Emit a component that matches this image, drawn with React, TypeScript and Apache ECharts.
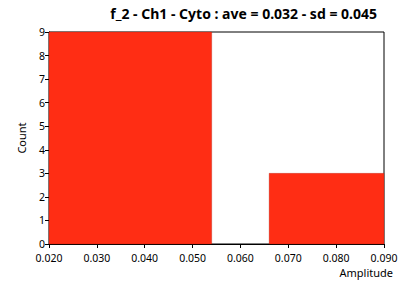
import React, { useEffect, useRef } from "react";
import * as echarts from "echarts";

const binStarts = [0.02, 0.066];
const binEnds = [0.054, 0.09];
const counts = [9, 3];
const titleText = "f_2 - Ch1 - Cyto : ave = 0.032 - sd = 0.045";
const xName = "Amplitude";
const yName = "Count";

const FONT = "Noto Sans";

export default function App() {
  const ref = useRef<HTMLDivElement>(null);
  useEffect(() => {
    const chart = echarts.init(ref.current!, undefined, { renderer: "svg" });
    const data = counts.map((c, i) => [binStarts[i], binEnds[i], c]);
    chart.setOption({
      animation: false,
      title: {
        text: titleText,
        right: 26,
        top: 1,
        textStyle: { fontFamily: FONT, fontSize: 14, fontWeight: "bold", color: "#000" },
      },
      grid: { left: 49, right: 24, top: 32, bottom: 43, show: true, borderColor: "#000", borderWidth: 1, backgroundColor: "#fff" },
      xAxis: {
        type: "value",
        min: 0.02,
        max: 0.09,
        interval: 0.01,
        axisLine: { show: true, lineStyle: { color: "#000" } },
        axisTick: { show: true, length: 4, lineStyle: { color: "#000" } },
        splitLine: { show: false },
        axisLabel: {
          fontFamily: FONT,
          fontSize: 10.5,
          color: "#000",
          margin: 8,
          formatter: (v: number) => v.toFixed(3),
        },
      },
      yAxis: {
        type: "value",
        min: 0,
        max: 9,
        interval: 1,
        name: yName,
        nameLocation: "middle",
        nameGap: 22,
        nameTextStyle: { fontFamily: FONT, fontSize: 11, color: "#000" },
        axisLine: { show: true, lineStyle: { color: "#000" } },
        axisTick: { show: true, length: 4, lineStyle: { color: "#000" } },
        splitLine: { show: false },
        axisLabel: { fontFamily: FONT, fontSize: 10.5, lineHeight: 11, color: "#000", margin: 4 },
      },
      graphic: [
        {
          type: "text",
          right: 15,
          top: 267,
          style: { text: xName, fontFamily: FONT, fontSize: 11, fill: "#000" },
        },
      ],
      series: [
        {
          type: "custom",
          data,
          renderItem: (params: any, api: any) => {
            const p0 = api.coord([api.value(0), api.value(2)]);
            const p1 = api.coord([api.value(1), 0]);
            return {
              type: "rect",
              shape: { x: p0[0], y: p0[1], width: p1[0] - p0[0], height: p1[1] - p0[1] },
              style: { fill: "#ff2d14", stroke: "#a02010", lineWidth: 0.3 },
            };
          },
          encode: { x: [0, 1], y: 2 },
        },
      ],
    });
    return () => chart.dispose();
  }, []);
  return <div ref={ref} style={{ width: 408, height: 287, position: "absolute", left: 0, top: 0 }} />;
}
